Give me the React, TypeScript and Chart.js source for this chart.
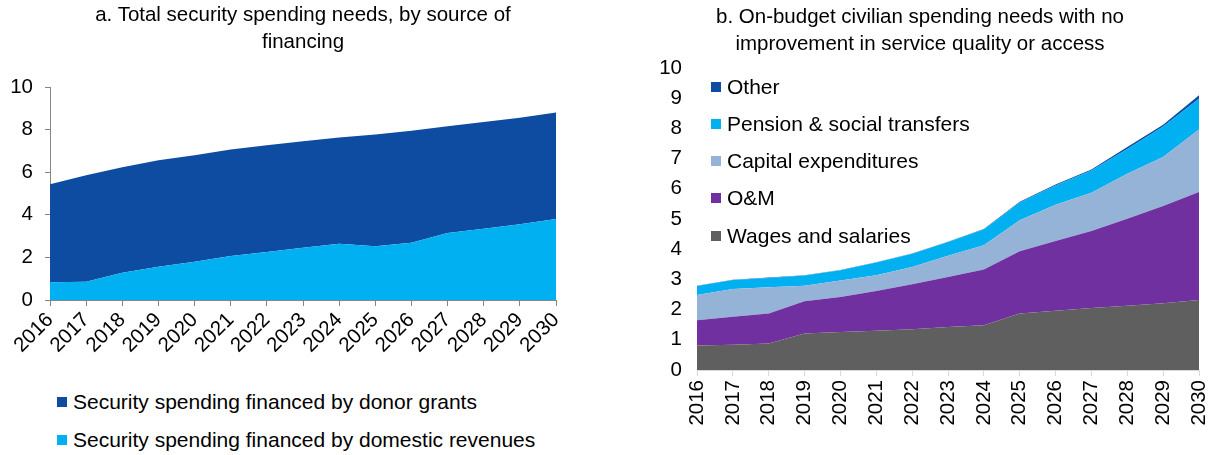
import React, { useEffect, useRef } from "react";
import { Chart, registerables } from "chart.js";

Chart.register(...registerables);

const years = ["2016","2017","2018","2019","2020","2021","2022","2023","2024","2025","2026","2027","2028","2029","2030"];

// Panel a
const domesticRevenues = [0.83,0.86,1.28,1.56,1.80,2.06,2.25,2.45,2.64,2.52,2.69,3.14,3.34,3.56,3.80];
const donorGrants = [4.61,5.00,4.95,5.00,5.00,5.00,5.02,5.00,4.99,5.25,5.26,5.02,5.02,5.00,5.00];
const leftTicks = [0,2,4,6,8,10];

// Panel b
const wages = [0.81,0.84,0.88,1.21,1.26,1.30,1.35,1.42,1.48,1.87,1.96,2.05,2.13,2.21,2.32];
const oandm = [0.84,0.92,0.99,1.07,1.16,1.32,1.49,1.66,1.85,2.06,2.31,2.55,2.88,3.22,3.57];
const capital = [0.83,0.92,0.87,0.51,0.54,0.52,0.57,0.70,0.80,1.03,1.20,1.27,1.49,1.62,2.07];
const pension = [0.30,0.30,0.31,0.34,0.34,0.42,0.44,0.46,0.52,0.59,0.64,0.74,0.82,1.01,1.02];
const other = [0.01,0.01,0.01,0.01,0.01,0.01,0.01,0.01,0.02,0.02,0.03,0.03,0.06,0.06,0.12];
const rightTicks = [0,1,2,3,4,5,6,7,8,9,10];

const FONT = "'Liberation Sans', Arial, sans-serif";
const AXIS_SIZE = 20.5;
const LEGEND_SIZE = 21;
const TITLE_SIZE = 20.5;
const DARK_BLUE = "#0E4CA1";
const LIGHT_BLUE = "#00B0F0";
const PURPLE = "#7030A0";
const PALE_BLUE = "#95B3D7";
const GREY = "#5F5F5F";

const area = (label: string, data: number[], color: string, fill: string | boolean) => ({
  label,
  data,
  backgroundColor: color,
  borderColor: color,
  borderWidth: 0,
  pointRadius: 0,
  fill,
  tension: 0,
});

const noPad = (s: any) => {
  s.paddingLeft = 0;
  s.paddingRight = 0;
  s.paddingTop = 0;
  s.paddingBottom = 0;
};

export default function App() {
  const leftRef = useRef<HTMLCanvasElement>(null);
  const rightRef = useRef<HTMLCanvasElement>(null);

  useEffect(() => {
    const left = new Chart(leftRef.current!, {
      type: "line",
      data: {
        labels: years,
        datasets: [
          area("Security spending financed by domestic revenues", domesticRevenues, LIGHT_BLUE, "origin"),
          area("Security spending financed by donor grants", donorGrants, DARK_BLUE, "-1"),
        ],
      },
      options: {
        responsive: false,
        animation: false,
        layout: { padding: { left: 0, right: 44, top: 87, bottom: 0 } },
        plugins: { legend: { display: false }, tooltip: { enabled: false } },
        scales: {
          x: {
            offset: false,
            afterFit: (s: any) => { s.height = 80; noPad(s); },
            grid: { display: true, drawOnChartArea: false, drawTicks: true, tickLength: 6, color: "#868686", offset: false },
            border: { display: true, color: "#868686", width: 1 },
            ticks: { minRotation: 45, maxRotation: 45, autoSkip: false, font: { family: FONT, size: AXIS_SIZE }, color: "#000", padding: 2 },
          },
          y: {
            stacked: true,
            min: 0,
            max: 10,
            afterFit: (s: any) => { s.width = 50; noPad(s); },
            afterBuildTicks: (s: any) => { s.ticks = leftTicks.map((v) => ({ value: v })); },
            grid: { display: true, drawOnChartArea: false, drawTicks: true, tickLength: 5, color: "#868686" },
            border: { display: true, color: "#868686", width: 1 },
            ticks: { font: { family: FONT, size: AXIS_SIZE }, color: "#000", padding: 12 },
          },
        },
      },
    });

    const right = new Chart(rightRef.current!, {
      type: "line",
      data: {
        labels: years,
        datasets: [
          area("Wages and salaries", wages, GREY, "origin"),
          area("O&M", oandm, PURPLE, "-1"),
          area("Capital expenditures", capital, PALE_BLUE, "-1"),
          area("Pension & social transfers", pension, LIGHT_BLUE, "-1"),
          area("Other", other, DARK_BLUE, "-1"),
        ],
      },
      options: {
        responsive: false,
        animation: false,
        layout: { padding: { left: 0, right: 12, top: 68, bottom: 0 } },
        plugins: { legend: { display: false }, tooltip: { enabled: false } },
        scales: {
          x: {
            offset: false,
            afterFit: (s: any) => { s.height = 85; noPad(s); },
            grid: { display: true, drawOnChartArea: false, drawTicks: true, tickLength: 6, color: "#D9D9D9", offset: false },
            border: { display: true, color: "#D9D9D9", width: 1 },
            ticks: { minRotation: 90, maxRotation: 90, autoSkip: false, font: { family: FONT, size: AXIS_SIZE }, color: "#000", padding: 4 },
          },
          y: {
            stacked: true,
            min: 0,
            max: 10,
            afterFit: (s: any) => { s.width = 77; noPad(s); },
            afterBuildTicks: (s: any) => { s.ticks = rightTicks.map((v) => ({ value: v })); },
            grid: { display: false, drawTicks: false },
            border: { display: false },
            ticks: { font: { family: FONT, size: AXIS_SIZE }, color: "#000", padding: 15 },
          },
        },
      },
    });

    return () => { left.destroy(); right.destroy(); };
  }, []);

  const text: React.CSSProperties = { fontFamily: FONT, color: "#000", position: "absolute", whiteSpace: "nowrap" };
  const sq = (c: string, x: number, y: number): React.CSSProperties => ({ position: "absolute", left: x, top: y - 5, width: 10, height: 10, background: c });

  const leftLegend = [
    { label: "Security spending financed by donor grants", color: DARK_BLUE, y: 402 },
    { label: "Security spending financed by domestic revenues", color: LIGHT_BLUE, y: 440 },
  ];
  const rightLegend = [
    { label: "Other", color: DARK_BLUE, y: 87 },
    { label: "Pension & social transfers", color: LIGHT_BLUE, y: 124 },
    { label: "Capital expenditures", color: PALE_BLUE, y: 161 },
    { label: "O&M", color: PURPLE, y: 198 },
    { label: "Wages and salaries", color: GREY, y: 236 },
  ];

  const title: React.CSSProperties = { ...text, fontSize: TITLE_SIZE, lineHeight: "27px", textAlign: "center" };
  const leg: React.CSSProperties = { ...text, fontSize: LEGEND_SIZE, lineHeight: "26px" };

  return (
    <div style={{ position: "absolute", left: 0, top: 0, width: 1211, height: 455, background: "#fff", overflow: "hidden" }}>
      <canvas ref={leftRef} width={600} height={380} style={{ position: "absolute", left: 0, top: 0 }} />
      <canvas ref={rightRef} width={591} height={455} style={{ position: "absolute", left: 620, top: 0 }} />
      <div style={{ ...title, left: 0, width: 606, top: 0 }}>
        a. Total security spending needs, by source of<br />financing
      </div>
      <div style={{ ...title, left: 620, width: 600, top: 2 }}>
        b. On-budget civilian spending needs with no<br />improvement in service quality or access
      </div>
      {leftLegend.map((l) => (
        <React.Fragment key={l.label}>
          <div style={sq(l.color, 57, l.y)} />
          <div style={{ ...leg, left: 73, top: l.y - 13 }}>{l.label}</div>
        </React.Fragment>
      ))}
      {rightLegend.map((l) => (
        <React.Fragment key={l.label}>
          <div style={sq(l.color, 711, l.y)} />
          <div style={{ ...leg, left: 727, top: l.y - 13 }}>{l.label}</div>
        </React.Fragment>
      ))}
    </div>
  );
}
